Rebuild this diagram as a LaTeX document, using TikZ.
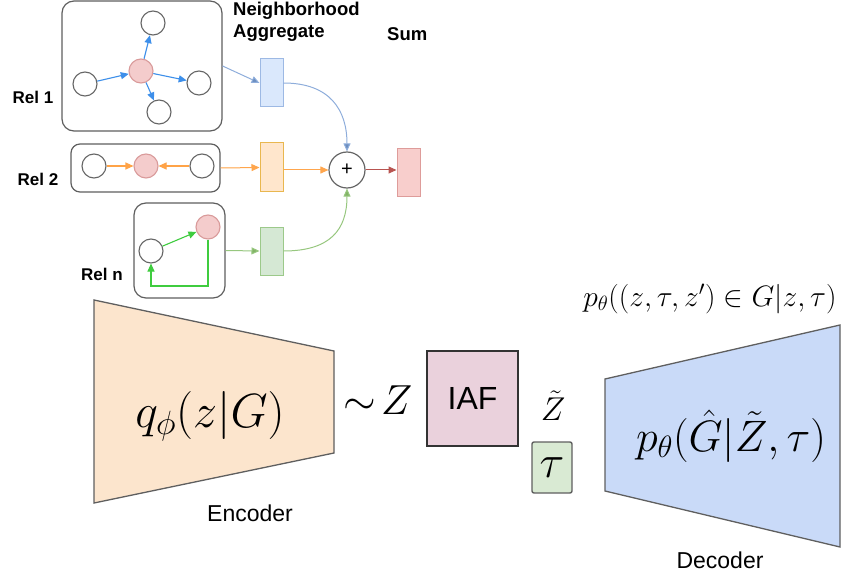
\RequirePackage{fix-cm}
\documentclass[tikz,border=0pt]{standalone}
\usepackage{fontspec}
\setsansfont{Liberation Sans}
\usetikzlibrary{arrows.meta}

\definecolor{boxline}{HTML}{5F5F5F}
\definecolor{nodeline}{HTML}{666666}
\definecolor{pinkfill}{HTML}{F4CCCC}
\definecolor{pinkline}{HTML}{D99A9A}
\definecolor{relblue}{HTML}{3D8FEA}
\definecolor{relorange}{HTML}{FFA347}
\definecolor{relgreen}{HTML}{3FCC3F}
\definecolor{aggblue}{HTML}{DAE8FC}
\definecolor{aggblueline}{HTML}{9DB9E4}
\definecolor{aggorange}{HTML}{FFE6CC}
\definecolor{aggorangeline}{HTML}{E9B74F}
\definecolor{agggreen}{HTML}{D5E8D4}
\definecolor{agggreenline}{HTML}{9CC98A}
\definecolor{sumpink}{HTML}{F8CECC}
\definecolor{sumpinkline}{HTML}{DE9C9A}
\definecolor{linkblue}{HTML}{8EADDB}
\definecolor{tipblue}{HTML}{6C8EBF}
\definecolor{linkorange}{HTML}{FFA64D}
\definecolor{linkred}{HTML}{B85450}
\definecolor{linkgreen}{HTML}{97C77F}
\definecolor{tipgreen}{HTML}{82B366}
\definecolor{encfill}{HTML}{FCE5CD}
\definecolor{iaffill}{HTML}{EAD1DC}
\definecolor{taufill}{HTML}{D9EAD3}
\definecolor{decfill}{HTML}{C9DAF8}

\tikzset{
  relbox/.style={draw=boxline, line width=1.2pt, rounded corners=12pt, fill=white,
    inner sep=0pt},
  gnode/.style={circle, draw=nodeline, line width=1.1pt, fill=white,
    minimum size=24pt, inner sep=0pt},
  cnode/.style={gnode, draw=pinkline, fill=pinkfill},
  aggbox/.style={draw, line width=1pt, minimum width=23pt, minimum height=48pt,
    inner sep=0pt},
  tip/.style={-{Triangle[length=8pt,width=7pt]}},
  edge/.style={tip, line width=1.1pt},
  bold label/.style={font=\sffamily\bfseries\fontsize{17}{20}\selectfont},
  plain label/.style={font=\sffamily\fontsize{23}{26}\selectfont},
  trap/.style={draw=boxline, line width=1.3pt, line join=miter},
}

\begin{document}
\begin{tikzpicture}[x=1pt, y=-1pt]
\useasboundingbox (0,0) rectangle (844,575);

% ---------- relation 1 ----------
\node[relbox, minimum width=160pt, minimum height=130pt] (r1) at (142,66) {};
\node[cnode] (r1c) at (141,71) {};
\node[gnode] (r1t) at (153,23) {};
\node[gnode] (r1l) at (85,84) {};
\node[gnode] (r1r) at (199,83) {};
\node[gnode] (r1b) at (159,112) {};
\begin{scope}[edge, draw=relblue, fill=relblue]
  \draw (r1l) -- (r1c);
  \draw (r1c) -- (r1t);
  \draw (r1c) -- (r1r);
  \draw (r1c) -- (r1b);
\end{scope}
\node[bold label] (l1) at (33,97) {Rel 1};

% ---------- relation 2 ----------
\node[relbox, rounded corners=9pt, minimum width=149pt, minimum height=48pt] (r2) at (145.5,168) {};
\node[gnode] (r2l) at (94,166) {};
\node[cnode] (r2c) at (146,166) {};
\node[gnode] (r2r) at (202,166) {};
\begin{scope}[edge, draw=relorange, fill=relorange]
  \draw (r2l) -- (r2c);
  \draw (r2r) -- (r2c);
\end{scope}
\node[bold label] (l2) at (38,179) {Rel 2};

% ---------- relation n ----------
\node[relbox, minimum width=91pt, minimum height=95pt] (rn) at (179.5,250.5) {};
\node[gnode] (rnl) at (151,251) {};
\node[cnode] (rnc) at (208,227) {};
\coordinate (rnq1) at (208,286);
\coordinate (rnq2) at (151,286);
\begin{scope}[edge, draw=relgreen, fill=relgreen]
  \draw (rnl) -- (rnc);
  \draw (rnc.south) -- (rnq1) -- (rnq2) -- (rnl.south);
\end{scope}
\node[bold label] (ln) at (102,274) {Rel n};

% ---------- neighbourhood aggregation ----------
\node[aggbox, draw=aggblueline, fill=aggblue] (ab) at (271.5,83) {};
\node[aggbox, draw=aggorangeline, fill=aggorange, minimum height=49pt] (ao) at (271.5,167.5) {};
\node[aggbox, draw=agggreenline, fill=agggreen] (ag) at (271.5,251) {};
\node[circle, draw=nodeline, line width=1.2pt, fill=white, minimum size=36pt,
  inner sep=0pt, font=\sffamily\fontsize{20}{20}\selectfont] (plus) at (347,170) {+};
\node[aggbox, draw=sumpinkline, fill=sumpink] (sp) at (408.5,173) {};

\node[bold label, font=\sffamily\bfseries\fontsize{18.5}{22}\selectfont, align=left,
  anchor=north west, inner sep=0pt] (nh) at (233,2) {Neighborhood\\Aggregate};
\node[bold label, font=\sffamily\bfseries\fontsize{18.5}{22}\selectfont,
  anchor=west, inner sep=0pt] (sum) at (387,34) {Sum};

\draw[line width=1pt, draw=linkblue, -{Triangle[length=8pt,width=7pt,fill=tipblue]}]
  (r1.east |- 0,66) -- (ab.west);
\draw[edge, line width=1pt, draw=linkorange, fill=linkorange] (r2.east) -- (ao.west);
\draw[line width=1pt, draw=linkgreen, -{Triangle[length=8pt,width=7pt,fill=tipgreen]}]
  (rn.east) -- (ag.west);

\draw[line width=1pt, draw=linkblue, -{Triangle[length=8pt,width=7pt,fill=tipblue]}]
  (ab.east) .. controls (330,83) and (347,110) .. (plus.north);
\draw[edge, line width=1pt, draw=linkorange, fill=linkorange] (ao.east |- plus) -- (plus.west);
\draw[line width=1pt, draw=linkgreen, -{Triangle[length=8pt,width=7pt,fill=tipgreen]}]
  (ag.east) .. controls (330,251) and (347,230) .. (plus.south);
\draw[edge, line width=1pt, draw=linkred, fill=linkred] (plus.east) -- (sp.west |- plus);

% ---------- encoder ----------
\coordinate (e1) at (94,300);
\coordinate (e2) at (334,351);
\coordinate (e3) at (334,453);
\coordinate (e4) at (94,503);
\draw[trap, fill=encfill] (e1) -- (e2) -- (e3) -- (e4) -- cycle;
\node[font=\fontsize{48}{52}\selectfont] (qenc) at (210,416) {$q_\phi(z|G)$};
\node[plain label] (enclab) at (250,513) {Encoder};

% ---------- latent ----------
\node[font=\fontsize{42}{46}\selectfont] (zs) at (378,400) {$\sim\! Z$};
\node[draw=black!80, line width=1.2pt, fill=iaffill, minimum width=91pt,
  minimum height=95pt, inner sep=0pt, font=\sffamily\fontsize{32}{34}\selectfont]
  (iaf) at (472.5,398.5) {IAF};
\node[font=\fontsize{33}{36}\selectfont] (zt) at (553,406) {$\tilde Z$};
\node[draw=boxline, line width=1.4pt, fill=taufill, rounded corners=2pt,
  minimum width=40pt, minimum height=51pt, inner sep=0pt,
  font=\fontsize{46}{48}\selectfont] (tau) at (552,467.5) {$\tau$};

% ---------- decoder ----------
\coordinate (d1) at (605,379);
\coordinate (d2) at (840,325);
\coordinate (d3) at (840,547);
\coordinate (d4) at (605,491);
\draw[trap, fill=decfill] (d1) -- (d2) -- (d3) -- (d4) -- cycle;
\node[font=\fontsize{44}{48}\selectfont] (pdec) at (731,436) {$p_\theta(\hat G|\tilde Z,\tau)$};
\node[font=\fontsize{29.5}{32}\selectfont] (ptop) at (710,299) {$p_\theta((z,\tau,z')\in G|z,\tau)$};
\node[plain label] (declab) at (720,560) {Decoder};
\end{tikzpicture}
\end{document}
